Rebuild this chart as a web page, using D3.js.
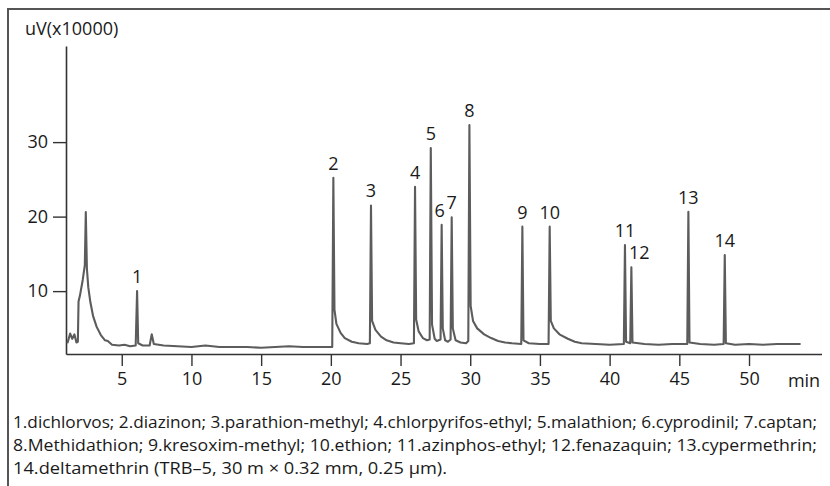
<!DOCTYPE html>
<html>
<head>
<meta charset="utf-8">
<script src="https://cdn.jsdelivr.net/npm/d3@7"></script>
<style>
  body { margin: 0; background: #fff; }
  svg { display: block; font-family: "Open Sans", sans-serif; }
</style>
</head>
<body>
<div id="chart"></div>
<script>
// x ticks (min) and y ticks (uV x10000)
const xTicks = [5, 10, 15, 20, 25, 30, 35, 40, 45, 50];
const yTicks = [10, 20, 30];

// numbered peaks: retention time (min), height
const peakIds = ["1", "2", "3", "4", "5", "6", "7", "8", "9", "10", "11", "12", "13", "14"];
const peakTimes = [6.1, 20.18, 22.88, 26.04, 27.17, 27.95, 28.67, 29.94, 33.74, 35.7, 41.1, 41.56, 45.65, 48.26];
const peakHeights = [10.0, 25.2, 21.5, 24.0, 29.2, 18.9, 19.9, 32.3, 18.65, 18.65, 16.2, 13.2, 20.65, 14.85];

// chromatogram trace: [time, signal]
const trace = [
  [1.1, 3.0], [1.3, 4.3], [1.45, 3.6], [1.6, 4.2], [1.75, 3.1], [1.85, 3.2],
  [1.9, 8.6], [2.0, 9.4], [2.2, 11.5], [2.35, 13.5], [2.42, 20.6], [2.5, 13.0],
  [2.6, 10.5], [2.75, 8.5], [2.95, 6.6], [3.2, 5.2], [3.5, 4.1], [3.8, 3.4],
  [4.0, 3.3], [4.3, 2.8], [4.8, 2.7], [5.2, 2.8], [5.6, 2.6], [6.0, 2.7],
  [6.1, 10.0], [6.18, 3.0], [6.5, 2.7], [7.0, 2.7], [7.15, 4.2], [7.3, 2.9],
  [8, 2.7], [9, 2.6], [10, 2.5], [11, 2.7], [12, 2.5], [13, 2.5], [14, 2.5],
  [15, 2.4], [16, 2.5], [17, 2.6], [18, 2.5], [19, 2.5], [20.1, 2.5],
  [20.18, 25.2], [20.26, 7.5], [20.4, 5.6], [20.7, 4.4], [21.0, 3.7], [21.5, 3.2],
  [22.0, 3.0], [22.6, 2.9], [22.8, 3.0], [22.88, 21.5], [22.96, 6.0], [23.2, 4.8],
  [23.6, 3.9], [24.0, 3.4], [24.5, 3.1], [25.0, 3.0], [25.6, 2.9], [25.96, 3.0],
  [26.04, 24.0], [26.12, 6.2], [26.3, 4.6], [26.6, 3.7], [26.9, 3.4], [27.09, 3.5],
  [27.17, 29.2], [27.26, 5.5], [27.45, 3.6], [27.6, 3.3], [27.87, 3.5], [27.95, 18.9],
  [28.03, 5.0], [28.2, 3.4], [28.4, 3.2], [28.59, 3.5], [28.67, 19.9], [28.75, 5.0],
  [28.95, 3.4], [29.3, 3.1], [29.7, 3.0], [29.86, 3.3], [29.94, 32.3], [30.03, 8.0],
  [30.2, 6.0], [30.5, 5.0], [31.0, 4.2], [31.5, 3.7], [32.0, 3.3], [32.5, 3.1],
  [33.0, 3.0], [33.66, 2.9], [33.74, 18.65], [33.82, 3.4], [34.2, 3.0], [35.0, 2.9],
  [35.62, 2.9], [35.7, 18.65], [35.78, 6.0], [36.0, 5.0], [36.4, 4.2], [37.0, 3.6],
  [37.5, 3.2], [38.0, 3.0], [39.0, 2.9], [40.0, 2.8], [41.02, 2.9], [41.1, 16.2],
  [41.18, 3.2], [41.48, 3.0], [41.56, 13.2], [41.64, 3.1], [42.5, 2.9], [43.5, 2.8],
  [44.5, 2.9], [45.57, 2.9], [45.65, 20.65], [45.73, 3.1], [46.5, 2.9], [47.5, 2.8],
  [48.18, 2.9], [48.26, 14.85], [48.34, 3.0], [49, 2.8], [50, 2.9], [51, 2.8],
  [52, 2.9], [53.7, 2.9]
];

const captionLines = [
  "1.dichlorvos; 2.diazinon; 3.parathion-methyl; 4.chlorpyrifos-ethyl; 5.malathion; 6.cyprodinil; 7.captan;",
  "8.Methidathion; 9.kresoxim-methyl; 10.ethion; 11.azinphos-ethyl; 12.fenazaquin; 13.cypermethrin;",
  "14.deltamethrin (TRB\u20135, 30 m \u00d7 0.32 mm, 0.25 \u00b5m)."
];
const captionWidths = [804, 804, 434];

const W = 830, H = 486;
const ink = "#333";

const svg = d3.select("#chart").append("svg")
  .attr("width", W)
  .attr("height", H);

// outer frame (top + left edges visible)
svg.append("path")
  .attr("d", `M8,${H} L8,9 L${W},9`)
  .attr("fill", "none")
  .attr("stroke", "#555")
  .attr("stroke-width", 2);

const x = d3.scaleLinear().domain([1, 55.2]).range([66, 821.5]);
const y = d3.scaleLinear().domain([1.56, 42.9]).range([354, 46]);

// x axis
const xAxis = svg.append("g")
  .attr("transform", `translate(0,${y(1.56)})`)
  .call(d3.axisBottom(x).tickValues(xTicks).tickSize(12).tickPadding(6).tickSizeOuter(0));

// y axis
const yAxis = svg.append("g")
  .attr("transform", `translate(${x(1)},0)`)
  .call(d3.axisLeft(y).tickValues(yTicks).tickSize(13).tickPadding(5).tickSizeOuter(0));

[xAxis, yAxis].forEach(g => {
  g.select(".domain").attr("stroke", ink).attr("stroke-width", 1.6);
  g.selectAll(".tick line").attr("stroke", ink).attr("stroke-width", 1.4);
  g.selectAll(".tick text")
    .attr("fill", "#1a1a1a")
    .style("font-size", "18px")
    .style("font-family", "Open Sans");
});

svg.append("text")
  .attr("x", 804).attr("y", y(1.56) + 33)
  .attr("text-anchor", "middle")
  .attr("fill", "#1a1a1a")
  .style("font-size", "18px")
  .text("min");

svg.append("text")
  .attr("x", 25).attr("y", 35)
  .attr("fill", "#1a1a1a")
  .style("font-size", "18px")
  .text("uV(x10000)");

// chromatogram
const line = d3.line()
  .x(d => x(d[0]))
  .y(d => y(d[1]));

svg.append("path")
  .datum(trace)
  .attr("d", line)
  .attr("fill", "none")
  .attr("stroke", "#5c5c5c")
  .attr("stroke-width", 2.1)
  .attr("stroke-linejoin", "round");

// peak numbers
const nudge = { "12": 8, "6": -2 };
svg.append("g")
  .selectAll("text")
  .data(peakIds)
  .join("text")
  .attr("x", (d, i) => x(peakTimes[i]) + (nudge[d] || 0))
  .attr("y", (d, i) => y(peakHeights[i]) - 8)
  .attr("text-anchor", "middle")
  .attr("fill", "#1a1a1a")
  .style("font-size", "18px")
  .text(d => d);

// caption
svg.append("g")
  .selectAll("text")
  .data(captionLines)
  .join("text")
  .attr("x", 13)
  .attr("y", (d, i) => 428 + i * 23)
  .attr("textLength", (d, i) => captionWidths[i])
  .attr("lengthAdjust", "spacingAndGlyphs")
  .attr("fill", "#1a1a1a")
  .style("font-size", "16.5px")
  .text(d => d);
</script>
</body>
</html>
